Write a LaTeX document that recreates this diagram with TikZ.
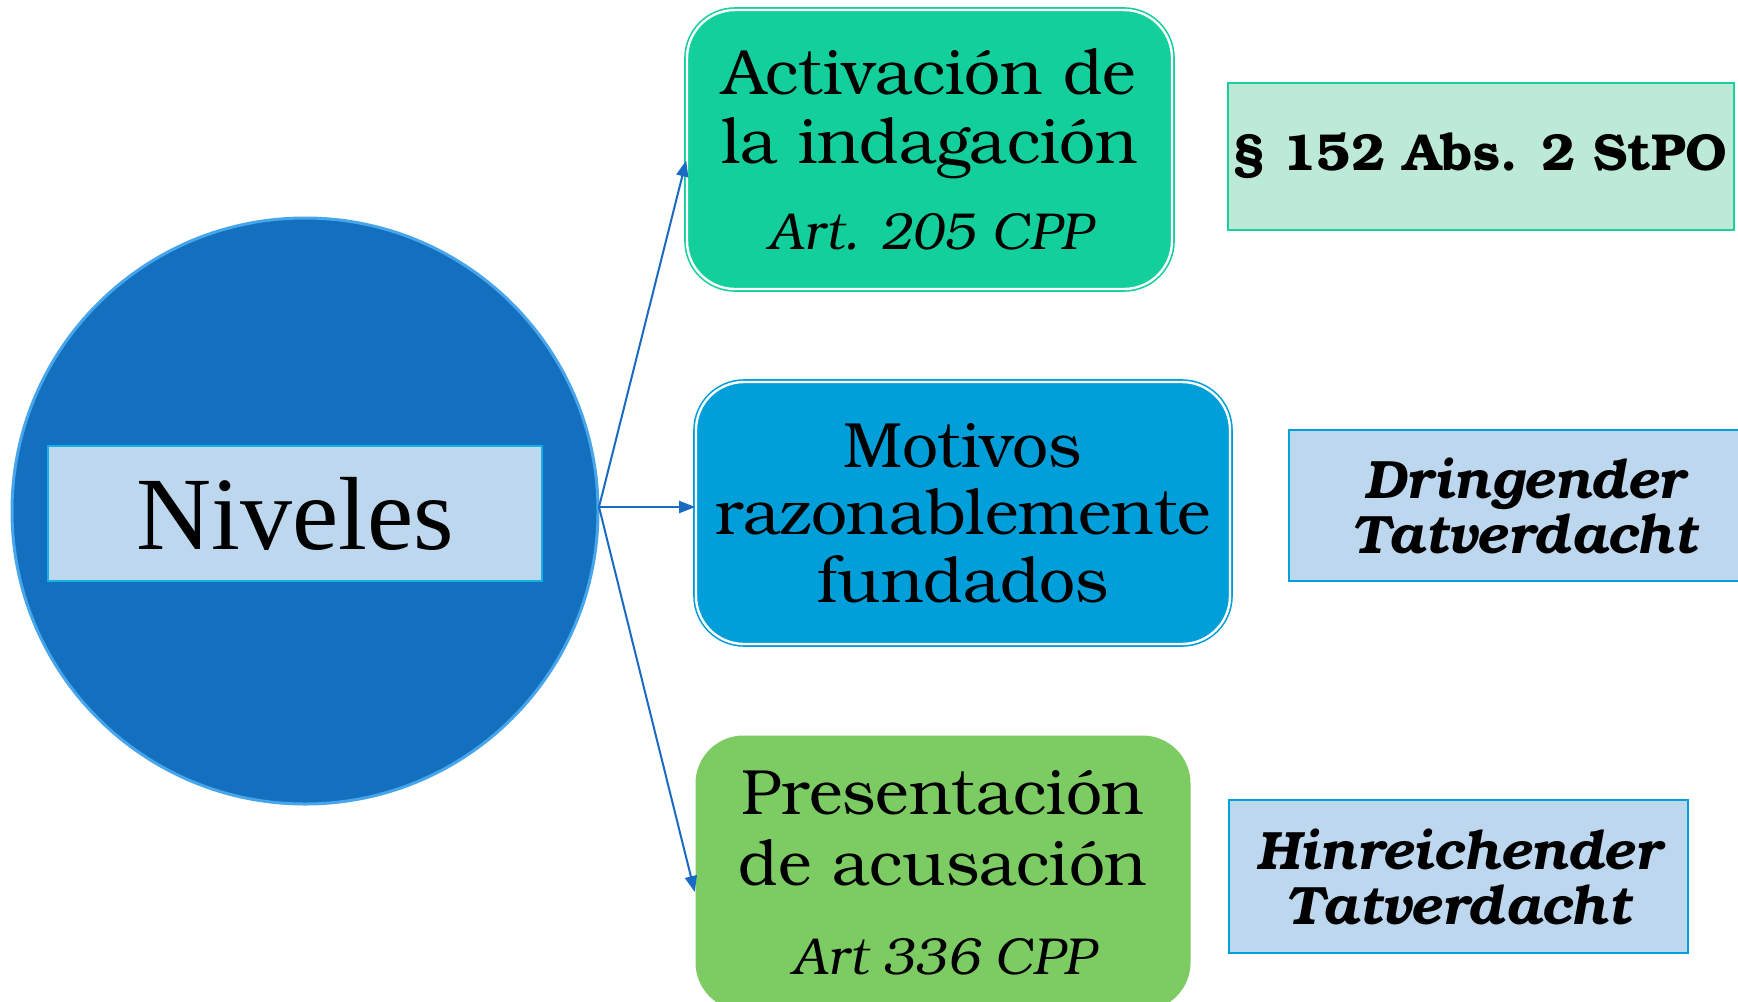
\documentclass[tikz,border=0pt]{standalone}
\usepackage{fontspec}
\setmainfont{TeX Gyre Bonum}
\newfontfamily\nivfont{Liberation Serif}
\usetikzlibrary{arrows.meta}

\definecolor{circblue}{RGB}{18,112,190}
\definecolor{circrim}{RGB}{70,165,235}
\definecolor{nivfill}{RGB}{189,215,238}
\definecolor{nivedge}{RGB}{20,176,232}
\definecolor{actgreen}{RGB}{18,207,156}
\definecolor{motblue}{RGB}{1,159,218}
\definecolor{presgreen}{RGB}{125,203,99}
\definecolor{mintfill}{RGB}{189,233,215}
\definecolor{mintedge}{RGB}{30,207,155}
\definecolor{skyedge}{RGB}{0,160,220}
\definecolor{arrowblue}{RGB}{26,106,196}

\tikzset{every picture/.style={line width=0.75pt}}

\begin{document}
\begin{tikzpicture}[x=0.5pt,y=0.5pt,yscale=-1,xscale=1,
  lvlbox/.style={rectangle, rounded corners=24pt, line width=0.8pt, double=white, double distance=1.2pt, inner sep=0pt, align=center},
  refbox/.style={rectangle, line width=1pt, inner sep=0pt, align=center, font=\fontsize{27}{27.5}\selectfont\bfseries\itshape},
  conn/.style={draw=arrowblue, line width=1pt, -{Triangle[length=8pt,width=6pt]}}]
%set diagram left start at 0, and has height of 1001
\path[fill=white] (0,0) rectangle (1738,1001);
\useasboundingbox (0,0) rectangle (1738,1001);

%Shape: Circle
\node[circle, fill=circblue, draw=circrim, line width=1.5pt, minimum size=293pt, inner sep=0pt] (circ) at (305,511) {};
%Shape: Rectangle
\node[rectangle, fill=nivfill, draw=nivedge, line width=1pt, minimum width=247pt, minimum height=67.5pt, inner sep=0pt, font=\nivfont\fontsize{52}{60}\selectfont] (niv) at (295,513.5) {Niveles};

%Shape: Rounded Rect
\node[lvlbox, fill=actgreen, draw=actgreen, minimum width=242.5pt, minimum height=139.5pt, font=\fontsize{32}{34.5}\selectfont] (act) at (929.5,149.5) {Activación de\\ la indagación\\[8.5pt] {\fontsize{26}{34.5}\selectfont\itshape Art. 205 CPP}};
%Shape: Rounded Rect
\node[lvlbox, fill=motblue, draw=motblue, minimum width=267pt, minimum height=131pt, font=\fontsize{32}{33.75}\selectfont] (mot) at (963,513) {Motivos\\ razonablemente\\ fundados};
%Shape: Rounded Rect
\node[rectangle, rounded corners=24pt, fill=presgreen, inner sep=0pt, align=center, minimum width=247.5pt, minimum height=137.5pt, font=\fontsize{32}{35.5}\selectfont] (pres) at (943,873) {Presentación\\ de acusación\\[9pt] {\fontsize{26}{35.5}\selectfont\itshape Art 336 CPP}};

%Shape: Rectangle
\node[refbox, fill=mintfill, draw=mintedge, minimum width=253pt, minimum height=73.5pt, font=\fontsize{26}{30}\selectfont\bfseries] (stpo) at (1480.5,156) {§ 152 Abs. 2 StPO};
%Shape: Rectangle
\node[refbox, fill=nivfill, draw=skyedge, minimum width=235.5pt, minimum height=75.5pt] (dring) at (1524.5,505.5) {Dringender\\ Tatverdacht};
%Shape: Rectangle
\node[refbox, fill=nivfill, draw=skyedge, minimum width=229.5pt, minimum height=76.5pt] (hinr) at (1458.5,876.5) {Hinreichender\\ Tatverdacht};

%Straight Lines
\coordinate (hub) at (599,507);
\draw[conn] (hub) -- ([yshift=5.5pt]act.west);
\draw[conn] (hub) -- ([yshift=-3pt]mot.west);
\draw[conn] (hub) -- ([yshift=9.5pt]pres.west);

\end{tikzpicture}
\end{document}
